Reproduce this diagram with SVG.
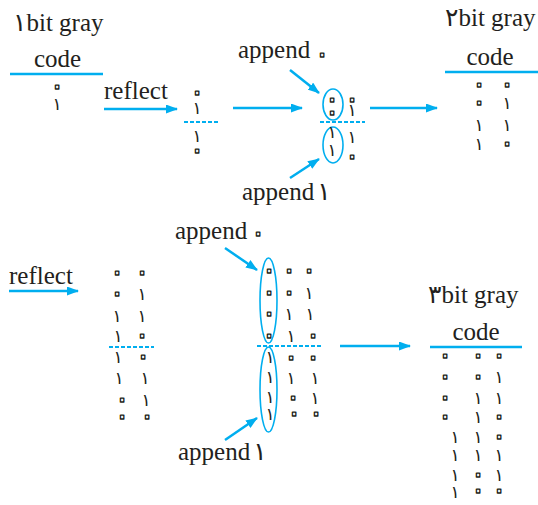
<svg xmlns="http://www.w3.org/2000/svg" width="538" height="505" viewBox="0 0 538 505">
<style>
.lbl{font-family:"Liberation Serif","Times New Roman","DejaVu Serif","Noto Serif",serif;font-size:25px;fill:#231f20}
.pd{font-family:"DejaVu Sans",sans-serif}
.d{font-family:"DejaVu Sans",sans-serif;font-size:17px;fill:#231f20;text-anchor:middle}
.z{font-family:"DejaVu Sans",sans-serif;font-size:32px;fill:#fff;stroke:#231f20;stroke-width:1.3;stroke-linejoin:round;text-anchor:middle}
.b{stroke:#00aeef;stroke-width:2.5;fill:none}
.a{stroke:#00aeef;stroke-width:2.5;fill:none}
.dash{stroke:#00aeef;stroke-width:2;stroke-dasharray:4 2;fill:none}
.e{stroke:#00aeef;stroke-width:1.6;fill:none}
</style>
<defs>
<marker id="ah" viewBox="0 0 12 9" refX="11" refY="4.5" markerWidth="12" markerHeight="9" markerUnits="userSpaceOnUse" orient="auto">
<path d="M0,0 L12,4.5 L0,9 z" fill="#00aeef"/>
</marker>
</defs>

<g id="title1">
<text class="lbl" x="13" y="31"><tspan class="pd">۱</tspan>bit gray</text>
<text class="lbl" x="57.5" y="67" text-anchor="middle">code</text>
<line class="b" x1="10" y1="74" x2="103" y2="74"/>
<text class="z" x="57" y="96">۰</text>
<text class="d" x="57" y="110">۱</text>
</g>

<g id="reflect1">
<text class="lbl" x="104" y="99">reflect</text>
</g>

<g id="col1">
<text class="z" x="197" y="102">۰</text>
<text class="d" x="197" y="114">۱</text>
<line class="dash" x1="184" y1="122" x2="220" y2="122"/>
<text class="d" x="197" y="142">۱</text>
<text class="z" x="197" y="160">۰</text>
</g>

<g id="col2">
<text class="lbl" x="238" y="58">append<tspan class="z" x="322" dy="6">۰</tspan></text>
<ellipse class="e" cx="333" cy="104.5" rx="10" ry="15.5"/>
<ellipse class="e" cx="333" cy="145" rx="10" ry="18"/>
<line class="dash" x1="320" y1="122" x2="365" y2="122"/>
<text class="z" x="332" y="109">۰</text>
<text class="z" x="332" y="122">۰</text>
<text class="d" x="332" y="138">۱</text>
<text class="d" x="332" y="156">۱</text>
<text class="z" x="352" y="109">۰</text>
<text class="d" x="352" y="116">۱</text>
<text class="d" x="352" y="143">۱</text>
<text class="z" x="352" y="166">۰</text>
<text class="lbl" x="242" y="200">append<tspan class="pd" dx="3">۱</tspan></text>
</g>

<g id="title2">
<text class="lbl" x="445" y="26"><tspan class="pd">۲</tspan>bit gray</text>
<text class="lbl" x="490" y="65" text-anchor="middle">code</text>
<line class="b" x1="445" y1="72" x2="538" y2="72"/>
<text class="z" x="479" y="94">۰</text>
<text class="z" x="507" y="94">۰</text>
<text class="z" x="479" y="112">۰</text>
<text class="d" x="507" y="109">۱</text>
<text class="d" x="479" y="131">۱</text>
<text class="d" x="507" y="131">۱</text>
<text class="d" x="479" y="150">۱</text>
<text class="z" x="507" y="153">۰</text>
</g>

<g id="reflect2">
<text class="lbl" x="9" y="284">reflect</text>
</g>

<g id="col3">
<text class="z" x="117" y="282">۰</text>
<text class="z" x="142" y="282">۰</text>
<text class="z" x="117" y="303">۰</text>
<text class="d" x="142" y="300">۱</text>
<text class="d" x="117" y="322">۱</text>
<text class="d" x="142" y="322">۱</text>
<text class="d" x="118" y="342">۱</text>
<text class="z" x="142" y="345">۰</text>
<line class="dash" x1="109" y1="347" x2="154" y2="347"/>
<text class="d" x="118" y="363">۱</text>
<text class="z" x="143" y="366">۰</text>
<text class="d" x="119" y="384">۱</text>
<text class="d" x="145" y="384">۱</text>
<text class="z" x="122" y="409">۰</text>
<text class="d" x="146" y="406">۱</text>
<text class="z" x="122" y="426">۰</text>
<text class="z" x="147" y="426">۰</text>
</g>

<g id="col4">
<text class="lbl" x="175" y="239">append<tspan class="z" x="258" dy="4">۰</tspan></text>
<ellipse class="e" cx="268.5" cy="300.5" rx="8.5" ry="42.5"/>
<ellipse class="e" cx="268.5" cy="389.5" rx="8.5" ry="42.5"/>
<line class="dash" x1="257" y1="346" x2="323" y2="346"/>
<text class="z" x="269" y="280">۰</text>
<text class="z" x="289" y="280">۰</text>
<text class="z" x="309" y="280">۰</text>
<text class="z" x="269" y="302">۰</text>
<text class="z" x="289" y="302">۰</text>
<text class="d" x="309" y="299">۱</text>
<text class="z" x="269" y="323">۰</text>
<text class="d" x="289" y="320">۱</text>
<text class="d" x="310" y="320">۱</text>
<text class="z" x="269" y="345">۰</text>
<text class="d" x="291" y="342">۱</text>
<text class="z" x="313" y="345">۰</text>
<text class="d" x="270" y="363">۱</text>
<text class="z" x="291" y="367">۰</text>
<text class="z" x="313" y="367">۰</text>
<text class="d" x="270" y="383">۱</text>
<text class="d" x="291" y="384">۱</text>
<text class="d" x="315" y="384">۱</text>
<text class="d" x="270" y="403">۱</text>
<text class="z" x="293" y="407">۰</text>
<text class="d" x="315" y="404">۱</text>
<text class="d" x="270" y="420">۱</text>
<text class="z" x="294" y="423">۰</text>
<text class="z" x="316" y="423">۰</text>
<text class="lbl" x="178" y="460">append<tspan class="pd" dx="3">۱</tspan></text>
</g>

<g id="title3">
<text class="lbl" x="428" y="303"><tspan class="pd">۳</tspan>bit gray</text>
<text class="lbl" x="476" y="340" text-anchor="middle">code</text>
<line class="b" x1="430" y1="347" x2="522" y2="347"/>
<text class="z" x="445" y="365">۰</text>
<text class="z" x="478" y="365">۰</text>
<text class="z" x="499" y="365">۰</text>
<text class="z" x="445" y="386">۰</text>
<text class="z" x="478" y="386">۰</text>
<text class="d" x="499" y="383">۱</text>
<text class="z" x="445" y="407">۰</text>
<text class="d" x="478" y="404">۱</text>
<text class="d" x="499" y="404">۱</text>
<text class="z" x="445" y="426">۰</text>
<text class="d" x="478" y="423">۱</text>
<text class="z" x="499" y="426">۰</text>
<text class="d" x="455" y="443">۱</text>
<text class="d" x="478" y="443">۱</text>
<text class="z" x="499" y="446">۰</text>
<text class="d" x="455" y="461">۱</text>
<text class="d" x="478" y="461">۱</text>
<text class="d" x="499" y="461">۱</text>
<text class="d" x="455" y="481">۱</text>
<text class="z" x="478" y="484">۰</text>
<text class="d" x="499" y="481">۱</text>
<text class="d" x="455" y="498">۱</text>
<text class="z" x="478" y="500">۰</text>
<text class="z" x="499" y="500">۰</text>
</g>

<g id="connectors">
<line class="a" x1="104" y1="109" x2="177" y2="109" marker-end="url(#ah)"/>
<line class="a" x1="233" y1="108" x2="302" y2="108" marker-end="url(#ah)"/>
<line class="a" x1="290" y1="70" x2="319" y2="93" marker-end="url(#ah)"/>
<line class="a" x1="290" y1="178" x2="319" y2="159" marker-end="url(#ah)"/>
<line class="a" x1="370" y1="108" x2="437" y2="108" marker-end="url(#ah)"/>
<line class="a" x1="9" y1="291" x2="78" y2="291" marker-end="url(#ah)"/>
<line class="a" x1="225" y1="248" x2="257" y2="270" marker-end="url(#ah)"/>
<line class="a" x1="225" y1="440" x2="257" y2="418" marker-end="url(#ah)"/>
<line class="a" x1="340" y1="346" x2="410" y2="346" marker-end="url(#ah)"/>
</g>
</svg>
